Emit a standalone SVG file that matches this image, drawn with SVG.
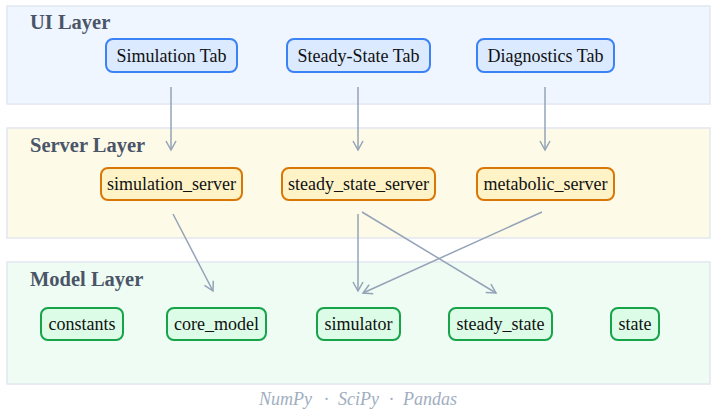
<svg xmlns="http://www.w3.org/2000/svg" width="717" height="416" viewBox="0 0 717 416">
<style>
.layer{stroke:#e2e8f0;stroke-width:1.5}
.ltitle{font-family:"Liberation Serif","Times New Roman",serif;font-weight:bold;font-size:20.5px;fill:#4a5568}
.lbl{font-family:"Liberation Serif","Times New Roman",serif;font-size:18px;fill:#111;text-anchor:middle}
.ui rect{fill:#dbeafe;stroke:#3b82f6;stroke-width:2}
.sv rect{fill:#fef3c7;stroke:#d97706;stroke-width:2}
.md rect{fill:#dcfce7;stroke:#16a34a;stroke-width:2}
.edge{stroke:#94a3b8;stroke-width:1.5;fill:none}
.foot{font-family:"Liberation Serif","Times New Roman",serif;font-style:italic;font-size:18px;fill:#a0aec0}
</style>
<defs>
<marker id="arr" viewBox="0 0 12 12" refX="10" refY="6" markerWidth="12" markerHeight="12" markerUnits="userSpaceOnUse" orient="auto">
<polyline points="1,1 10,6 1,11" fill="none" stroke="#94a3b8" stroke-width="1.5"/>
</marker>
</defs>
<g id="layer-ui"><rect class="layer" x="7" y="6" width="703" height="98" fill="#eff6ff"/><text class="ltitle" x="30" y="29">UI Layer</text></g>
<g id="layer-server"><rect class="layer" x="7" y="128" width="703" height="110" fill="#fefae8"/><text class="ltitle" x="30" y="152">Server Layer</text></g>
<g id="layer-model"><rect class="layer" x="7" y="262" width="703" height="122" fill="#effcf3"/><text class="ltitle" x="30" y="286">Model Layer</text></g>

<g id="connectors">
<line class="edge" x1="171" y1="87" x2="171" y2="150" marker-end="url(#arr)"/>
<line class="edge" x1="358" y1="87" x2="358" y2="150" marker-end="url(#arr)"/>
<line class="edge" x1="545" y1="87" x2="545" y2="150" marker-end="url(#arr)"/>
<line class="edge" x1="173" y1="214" x2="213" y2="291" marker-end="url(#arr)"/>
<line class="edge" x1="358" y1="214" x2="358" y2="291" marker-end="url(#arr)"/>
<line class="edge" x1="362" y1="212" x2="496" y2="293" marker-end="url(#arr)"/>
<line class="edge" x1="542" y1="212" x2="363" y2="293" marker-end="url(#arr)"/>
</g>

<g id="sim-tab" class="ui"><rect x="106" y="39" width="131" height="33" rx="7"/><text class="lbl" x="171.5" y="61.5">Simulation Tab</text></g>
<g id="ss-tab" class="ui"><rect x="287" y="39" width="143" height="33" rx="7"/><text class="lbl" x="358.5" y="61.5">Steady-State Tab</text></g>
<g id="diag-tab" class="ui"><rect x="477" y="39" width="137" height="33" rx="7"/><text class="lbl" x="545.5" y="61.5">Diagnostics Tab</text></g>

<g id="simulation_server" class="sv"><rect x="101" y="168" width="141" height="32" rx="7"/><text class="lbl" x="171.5" y="190">simulation_server</text></g>
<g id="steady_state_server" class="sv"><rect x="282" y="168" width="153" height="32" rx="7"/><text class="lbl" x="358.5" y="190">steady_state_server</text></g>
<g id="metabolic_server" class="sv"><rect x="477" y="168" width="137" height="32" rx="7"/><text class="lbl" x="545.5" y="190">metabolic_server</text></g>

<g id="constants" class="md"><rect x="41" y="308" width="82" height="32" rx="7"/><text class="lbl" x="82" y="330">constants</text></g>
<g id="core_model" class="md"><rect x="167" y="308" width="99" height="32" rx="7"/><text class="lbl" x="216.5" y="330">core_model</text></g>
<g id="simulator" class="md"><rect x="317" y="308" width="83" height="32" rx="7"/><text class="lbl" x="358.5" y="330">simulator</text></g>
<g id="steady_state" class="md"><rect x="449" y="308" width="103" height="32" rx="7"/><text class="lbl" x="500.5" y="330">steady_state</text></g>
<g id="state" class="md"><rect x="611" y="308" width="48" height="32" rx="7"/><text class="lbl" x="635" y="330">state</text></g>

<g id="footer" class="foot">
<text x="259" y="405">NumPy</text>
<text x="324" y="405">·</text>
<text x="338" y="405">SciPy</text>
<text x="389" y="405">·</text>
<text x="403" y="405">Pandas</text>
</g>
</svg>
